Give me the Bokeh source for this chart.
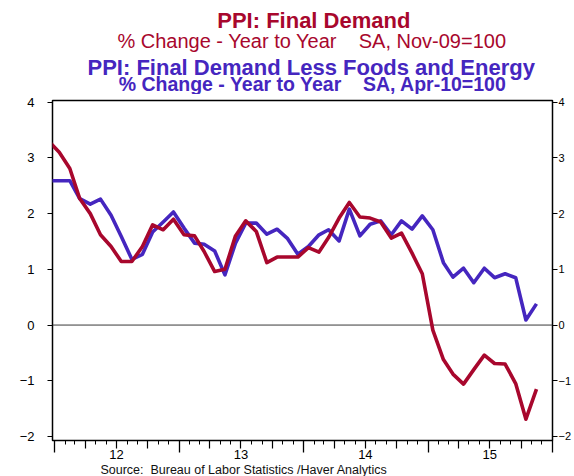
import pandas as pd
from bokeh.plotting import figure
from bokeh.layouts import column
from bokeh.models import ColumnDataSource, Range1d, LinearAxis, FixedTicker, Span, Label
from bokeh.embed import file_html
from bokeh.resources import INLINE

# ---------------- data (monthly, Dec 2011 .. Nov 2015) ----------------
month_start = "2011-12"
month_end = "2015-11"

# PPI: Final Demand, % change year to year
ppi_final_demand = [
    3.30,
    3.10, 2.81, 2.27, 2.00, 1.62, 1.41, 1.14, 1.14, 1.41, 1.80, 1.71, 1.90,
    1.62, 1.60, 1.32, 0.96, 1.00, 1.60, 1.87, 1.68, 1.12, 1.22, 1.22, 1.22,
    1.39, 1.31, 1.57, 1.92, 2.20, 1.94, 1.92, 1.85, 1.56, 1.65, 1.29, 0.92,
    -0.09, -0.62, -0.88, -1.06, -0.80, -0.54, -0.69, -0.70, -1.05, -1.69, -1.15,
]
# PPI: Final Demand less Foods and Energy, % change year to year
ppi_core = [
    2.59,
    2.59, 2.59, 2.27, 2.17, 2.26, 1.97, 1.59, 1.18, 1.27, 1.67, 1.85, 2.03,
    1.74, 1.47, 1.45, 1.33, 0.90, 1.47, 1.83, 1.83, 1.63, 1.72, 1.55, 1.27,
    1.41, 1.62, 1.71, 1.51, 2.08, 1.60, 1.81, 1.87, 1.62, 1.87, 1.72, 1.96,
    1.71, 1.12, 0.86, 1.02, 0.76, 1.02, 0.85, 0.92, 0.85, 0.09, 0.38,
]
years = [2012, 2013, 2014, 2015]
y_ticks = [-2, -1, 0, 1, 2, 3, 4]

title1 = "PPI: Final Demand"
sub1 = "% Change - Year to Year\u00a0\u00a0\u00a0\u00a0SA, Nov-09=100"
title2 = "PPI: Final Demand Less Foods and Energy"
sub2 = "% Change - Year to Year\u00a0\u00a0\u00a0\u00a0SA, Apr-10=100"
source_text = "Source:\u00a0 Bureau of Labor Statistics /Haver Analytics"

RED = "#A8072D"
BLUE = "#4526BF"
FONT = "Liberation Sans"
W = 574
BASE_FIX = 0.31   # Bokeh's alphabetic anchor sits this many em above the drawn baseline

def ms(d):
    return pd.Timestamp(d).value / 1e6

def bare(fig):
    fig.title.visible = False
    fig.grid.visible = False
    fig.outline_line_color = None
    fig.background_fill_color = "white"
    fig.border_fill_color = "white"

# ---------------- header (titles) ----------------
TOP_H = 94
top = figure(width=W, height=TOP_H, x_range=Range1d(0, W), y_range=Range1d(TOP_H, 0),
             x_axis_location=None, y_axis_location=None,
             output_backend="svg", toolbar_location=None, min_border=0)
bare(top)

def head(txt, cx, base, size, color, bold):
    top.add_layout(Label(x=cx, y=base - BASE_FIX * size, text=txt, text_align="center",
                         text_baseline="alphabetic", text_font=FONT,
                         text_font_size=f"{size}px", text_color=color,
                         text_font_style="bold" if bold else "normal"))

head(title1, 300, 27, 22, RED, True)
head(sub1, 298, 46.7, 20, RED, False)
head(title2, 297, 73.5, 22, BLUE, True)
head(sub2, 299, 89.8, 19.5, BLUE, True)

# ---------------- main chart ----------------
dates = (pd.date_range(month_start + "-01", month_end + "-01", freq="MS")
         + pd.Timedelta(days=14)).to_pydatetime()
src = ColumnDataSource(data=dict(date=dates, fd=ppi_final_demand, core=ppi_core))

FL, FR = 52, 558          # frame left / right (px)
FT, FB = 100, 440         # frame top / bottom (page px)
x_jan12, x_jan16 = ms("2012-01-01"), ms("2016-01-01")
px_per_ms = (FR - 54) / (x_jan16 - x_jan12)
x0 = x_jan12 - 2 / px_per_ms
x1 = x_jan16
y0, y1 = -2.072, 4.03

BOTTOM_BORDER = 24
MAIN_H = FB - TOP_H + BOTTOM_BORDER
main = figure(width=W, height=MAIN_H,
              x_range=Range1d(x0, x1), y_range=Range1d(y0, y1),
              x_axis_location=None, y_axis_location=None,
              output_backend="svg", toolbar_location=None,
              min_border_left=FL, min_border_right=W - FR,
              min_border_top=FT - TOP_H, min_border_bottom=BOTTOM_BORDER)
main.title.visible = False
main.grid.visible = False
main.background_fill_color = "white"
main.border_fill_color = "white"
main.outline_line_color = "black"
main.outline_line_width = 1.5

jan_ticks = [ms(f"{y}-01-01") for y in years + [2016]]
quarter_ticks = [ms(f"{y}-{m:02d}-01") for y in years for m in (4, 7, 10)]
minor_ticks = [ms(f"{y}-{m:02d}-01") for y in years for m in (2, 3, 5, 6, 8, 9, 11, 12)]
jul_ticks = [ms(f"{y}-07-01") for y in years]

def hidden_labels(ticks):
    return dict(major_label_overrides={int(t): "" for t in ticks},
                major_label_text_font_size="0px", major_label_standoff=0)

# A: quarter (medium) + monthly (short) ticks
ax_a = LinearAxis(ticker=FixedTicker(ticks=quarter_ticks, minor_ticks=minor_ticks),
                  major_tick_out=8, major_tick_in=0, minor_tick_out=4, minor_tick_in=0,
                  major_tick_line_color="black", minor_tick_line_color="black",
                  major_tick_line_width=1.2, minor_tick_line_width=1,
                  axis_line_alpha=0, **hidden_labels(quarter_ticks))
main.add_layout(ax_a, "below")
# B: year (long) ticks reaching up to the frame
ax_b = LinearAxis(ticker=FixedTicker(ticks=jan_ticks),
                  major_tick_out=4, major_tick_in=8,
                  major_tick_line_color="black", major_tick_line_width=1.3,
                  axis_line_alpha=0, **hidden_labels(jan_ticks))
main.add_layout(ax_b, "below")
# C: year labels at mid-year
ax_c = LinearAxis(ticker=FixedTicker(ticks=jul_ticks),
                  major_tick_out=0, major_tick_in=0, major_tick_line_alpha=0,
                  axis_line_alpha=0, major_label_standoff=-3,
                  major_label_text_font=FONT, major_label_text_font_size="13px",
                  major_label_text_color="black",
                  major_label_overrides={int(t): str(y)[2:] for t, y in zip(jul_ticks, years)})
main.add_layout(ax_c, "below")

for side, standoff, fsize in (("left", 13, "13px"), ("right", 1, "11px")):
    ax = LinearAxis(ticker=FixedTicker(ticks=y_ticks),
                    major_tick_out=5, major_tick_in=0,
                    major_tick_line_color="black", major_tick_line_width=1.2,
                    axis_line_alpha=0, major_label_standoff=standoff,
                    major_label_text_font=FONT, major_label_text_font_size=fsize,
                    major_label_text_color="black")
    main.add_layout(ax, side)

main.add_layout(Span(location=0, dimension="width", line_color="#3a3a3a",
                     line_width=1, level="underlay"))
main.line("date", "core", source=src, line_color=BLUE, line_width=3.6, line_join="round")
main.line("date", "fd", source=src, line_color=RED, line_width=3.6, line_join="round")

# ---------------- footer (source) ----------------
SRC_H = 476 - TOP_H - MAIN_H
SRC_SIZE = 12.5
foot = figure(width=W, height=SRC_H, x_range=Range1d(0, W), y_range=Range1d(SRC_H, 0),
              x_axis_location=None, y_axis_location=None,
              output_backend="svg", toolbar_location=None, min_border=0)
bare(foot)
foot.add_layout(Label(x=55, y=SRC_H - 2.8 - BASE_FIX * SRC_SIZE, text=source_text,
                      text_align="left", text_baseline="alphabetic", text_font=FONT,
                      text_font_size=f"{SRC_SIZE}px", text_color="#111111"))

layout = column(top, main, foot, spacing=0)
open("out.html", "w").write(file_html(layout, INLINE))
